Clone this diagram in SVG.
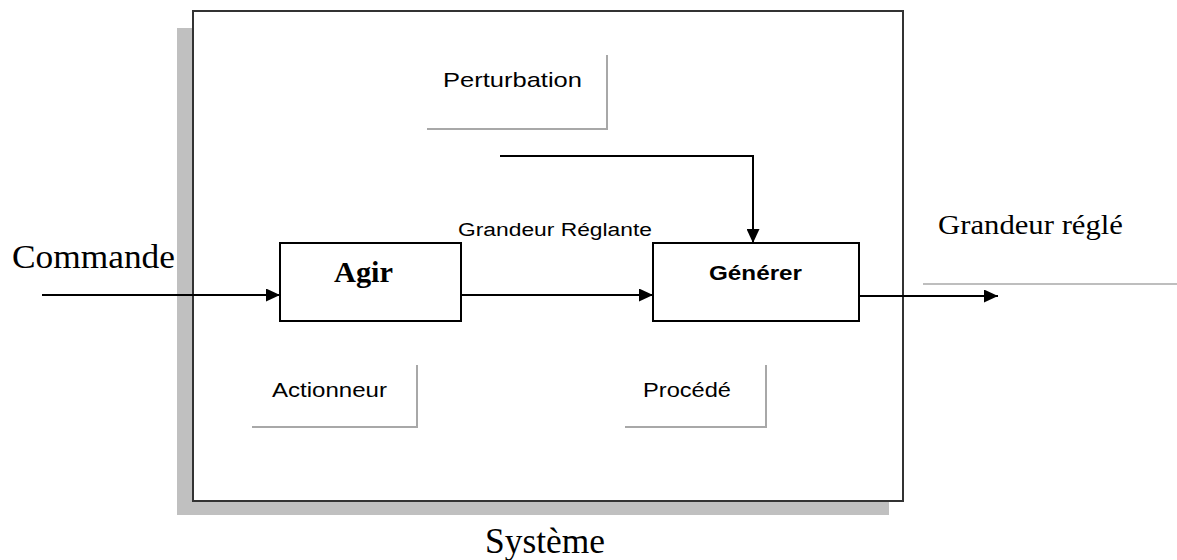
<svg xmlns="http://www.w3.org/2000/svg" width="1177" height="560" viewBox="0 0 1177 560">
  <style>
    .serif { font-family: "Liberation Serif", "Times New Roman", serif; fill: #000; }
    .sans { font-family: "Liberation Sans", Arial, sans-serif; fill: #000; }
    .box { fill: #fff; stroke: #000; stroke-width: 2; }
    .wire { fill: none; stroke: #000; stroke-width: 2; }
    .tag { fill: none; stroke: #a8a8a8; stroke-width: 2; }
    .rule { stroke: #a8a8a8; stroke-width: 1.5; }
  </style>
  <defs>
    <marker id="arrow" viewBox="0 0 14 13" refX="14" refY="6.5" markerWidth="14" markerHeight="13" markerUnits="userSpaceOnUse" orient="auto">
      <path d="M0,0 L14,6.5 L0,13 Z" fill="#000"/>
    </marker>
  </defs>
  <rect width="1177" height="560" fill="#fff"/>

  <!-- system frame with drop shadow -->
  <g id="systeme">
    <rect x="177" y="28" width="712" height="487" fill="#c0c0c0"/>
    <rect x="193" y="11" width="710" height="490" fill="#fff" stroke="#333" stroke-width="2"/>
    <text class="serif" x="485" y="553" font-size="35" textLength="120" lengthAdjust="spacingAndGlyphs">Système</text>
  </g>

  <!-- labelled tags -->
  <g id="perturbation">
    <polyline class="tag" points="427,129 607,129 607,55"/>
    <text class="sans" x="443" y="87" font-size="21" textLength="139" lengthAdjust="spacingAndGlyphs">Perturbation</text>
  </g>
  <g id="actionneur">
    <polyline class="tag" points="252,427 417,427 417,365"/>
    <text class="sans" x="272" y="397" font-size="21" textLength="115" lengthAdjust="spacingAndGlyphs">Actionneur</text>
  </g>
  <g id="procede">
    <polyline class="tag" points="625,427 766,427 766,365"/>
    <text class="sans" x="643" y="397" font-size="21" textLength="88" lengthAdjust="spacingAndGlyphs">Procédé</text>
  </g>

  <!-- blocks -->
  <g id="agir">
    <rect class="box" x="280" y="243" width="181" height="78"/>
    <text class="serif" x="334" y="282" font-size="29" font-weight="bold" textLength="59" lengthAdjust="spacingAndGlyphs">Agir</text>
  </g>
  <g id="generer">
    <rect class="box" x="653" y="243" width="206" height="78"/>
    <text class="sans" x="709" y="280" font-size="21" font-weight="bold" textLength="93" lengthAdjust="spacingAndGlyphs">Générer</text>
  </g>

  <!-- signal labels -->
  <g id="commande">
    <text class="serif" x="12" y="268" font-size="34" textLength="163" lengthAdjust="spacingAndGlyphs">Commande</text>
  </g>
  <g id="grandeur-reglante">
    <text class="sans" x="458" y="236" font-size="18" textLength="194" lengthAdjust="spacingAndGlyphs">Grandeur Réglante</text>
  </g>
  <g id="grandeur-regle">
    <text class="serif" x="938" y="234" font-size="28" textLength="185" lengthAdjust="spacingAndGlyphs">Grandeur réglé</text>
    <line class="rule" x1="923" y1="284" x2="1177" y2="284"/>
  </g>

  <!-- connectors -->
  <g id="connectors">
    <line class="wire" x1="42" y1="295" x2="280" y2="295" marker-end="url(#arrow)"/>
    <line class="wire" x1="461" y1="295" x2="653" y2="295" marker-end="url(#arrow)"/>
    <polyline class="wire" points="500,156 753,156 753,243" marker-end="url(#arrow)"/>
    <line class="wire" x1="859" y1="296" x2="998" y2="296" marker-end="url(#arrow)"/>
  </g>
</svg>
